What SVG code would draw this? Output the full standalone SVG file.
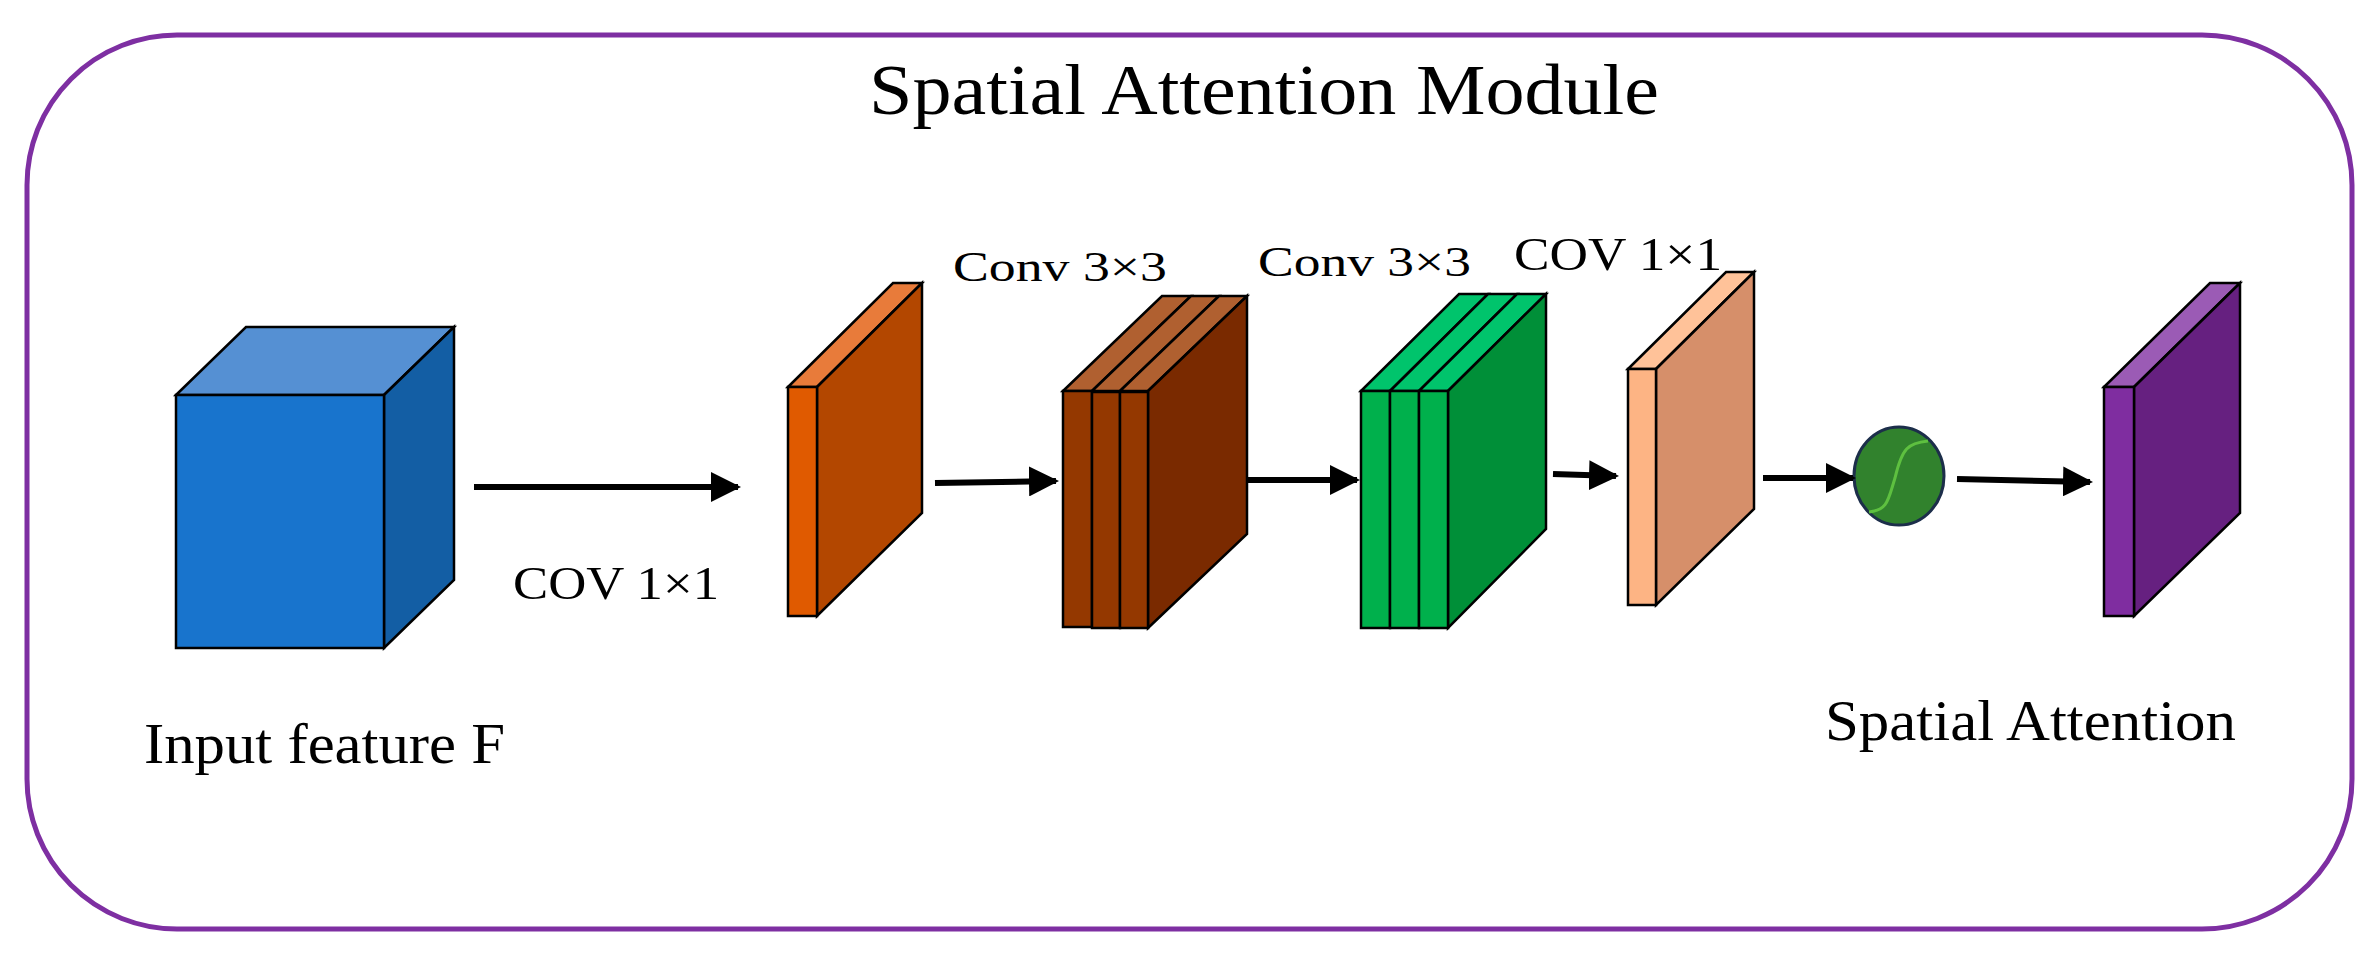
<svg xmlns="http://www.w3.org/2000/svg" width="2379" height="963" viewBox="0 0 2379 963">
<style>
text{font-family:"Liberation Serif","Times New Roman",serif;fill:#000}
.e{stroke:#000;stroke-width:2.5;stroke-linejoin:miter}
.c{stroke:#000;stroke-width:6;fill:none}
</style>
<defs>
<marker id="ah" viewBox="0 0 10 10" refX="9" refY="5" markerWidth="5" markerHeight="5" orient="auto" markerUnits="strokeWidth">
<path d="M0,0 L10,5 L0,10 z" fill="#000"/>
</marker>
</defs>
<rect width="2379" height="963" fill="#fff"/>
<rect x="27" y="35" width="2325" height="894" rx="150" ry="150" fill="none" stroke="#7E2FA2" stroke-width="5"/>
<text x="1264" y="114" font-size="72" text-anchor="middle" textLength="790" lengthAdjust="spacingAndGlyphs">Spatial Attention Module</text>

<g id="input">
<polygon class="e" points="176,395 246,327 454,327 384,395" fill="#5590D3" stroke="#0E3060"/>
<polygon class="e" points="384,395 454,327 454,580 384,648" fill="#135EA4" stroke="#0E3060"/>
<rect class="e" x="176" y="395" width="208" height="253" fill="#1874CD" stroke="#0E3060"/>
<text x="144" y="763" font-size="58" textLength="361" lengthAdjust="spacingAndGlyphs">Input feature F</text>
</g>

<g id="conv1">
<polygon class="e" points="788,387 893,283 922,283 817,387" fill="#E87B3A"/>
<polygon class="e" points="817,387 922,283 922,513 817,616" fill="#B34700"/>
<rect class="e" x="788" y="387" width="29" height="229" fill="#E05A00"/>
<text x="513" y="599" font-size="46" textLength="206" lengthAdjust="spacingAndGlyphs">COV 1×1</text>
</g>

<g id="conv3a">
<polygon class="e" points="1063,391 1162,296 1191,296 1092,391" fill="#B06030"/>
<polygon class="e" points="1092,391 1191,296 1219,296 1120,391" fill="#B06030"/>
<polygon class="e" points="1120,391 1219,296 1247,296 1148,391" fill="#B06030"/>
<polygon class="e" points="1148,391 1247,296 1247,534 1148,628" fill="#7A2A00"/>
<rect class="e" x="1063" y="391" width="29" height="236" fill="#943800"/>
<rect class="e" x="1092" y="392" width="28" height="236" fill="#943800"/>
<rect class="e" x="1120" y="392" width="28" height="236" fill="#943800"/>
<text x="953" y="281" font-size="42" textLength="214" lengthAdjust="spacingAndGlyphs">Conv 3×3</text>
</g>

<g id="conv3b">
<polygon class="e" points="1361,391 1459,294 1488,294 1390,391" fill="#00C46C"/>
<polygon class="e" points="1390,391 1488,294 1517,294 1419,391" fill="#00C46C"/>
<polygon class="e" points="1419,391 1517,294 1546,294 1448,391" fill="#00C46C"/>
<polygon class="e" points="1448,391 1546,294 1546,529 1448,628" fill="#008F38"/>
<rect class="e" x="1361" y="391" width="29" height="237" fill="#00B04C"/>
<rect class="e" x="1390" y="391" width="29" height="237" fill="#00B04C"/>
<rect class="e" x="1419" y="391" width="29" height="237" fill="#00B04C"/>
<text x="1258" y="276" font-size="42" textLength="213" lengthAdjust="spacingAndGlyphs">Conv 3×3</text>
</g>

<g id="conv1b">
<polygon class="e" points="1628,369 1726,272 1754,272 1656,369" fill="#FFC299"/>
<polygon class="e" points="1656,369 1754,272 1754,509 1656,605" fill="#D68F6A"/>
<rect class="e" x="1628" y="369" width="28" height="236" fill="#FDB484"/>
<text x="1514" y="270" font-size="46" textLength="208" lengthAdjust="spacingAndGlyphs">COV 1×1</text>
</g>

<g id="sigmoid">
<ellipse cx="1899" cy="476" rx="45" ry="49" fill="#31822D" stroke="#1C2E4A" stroke-width="3"/>
<path d="M1869,512 C1888,510 1888,500 1895,478 C1902,448 1908,443 1928,441" fill="none" stroke="#5EC040" stroke-width="3"/>
</g>

<g id="output">
<polygon class="e" points="2104,387 2210,283 2240,283 2134,387" fill="#9B5BB5"/>
<polygon class="e" points="2134,387 2240,283 2240,513 2134,616" fill="#662080"/>
<rect class="e" x="2104" y="387" width="30" height="229" fill="#7F2DA0"/>
<text x="1825" y="740" font-size="56" textLength="411" lengthAdjust="spacingAndGlyphs">Spatial Attention</text>
</g>

<g id="connectors">
<line class="c" x1="474" y1="487" x2="738" y2="487" marker-end="url(#ah)"/>
<line class="c" x1="935" y1="483" x2="1056" y2="481" marker-end="url(#ah)"/>
<line class="c" x1="1247" y1="480" x2="1357" y2="480" marker-end="url(#ah)"/>
<line class="c" x1="1553" y1="474" x2="1616" y2="476" marker-end="url(#ah)"/>
<line class="c" x1="1763" y1="478" x2="1853" y2="478" marker-end="url(#ah)"/>
<line class="c" x1="1957" y1="479" x2="2090" y2="482" marker-end="url(#ah)"/>
</g>
</svg>
